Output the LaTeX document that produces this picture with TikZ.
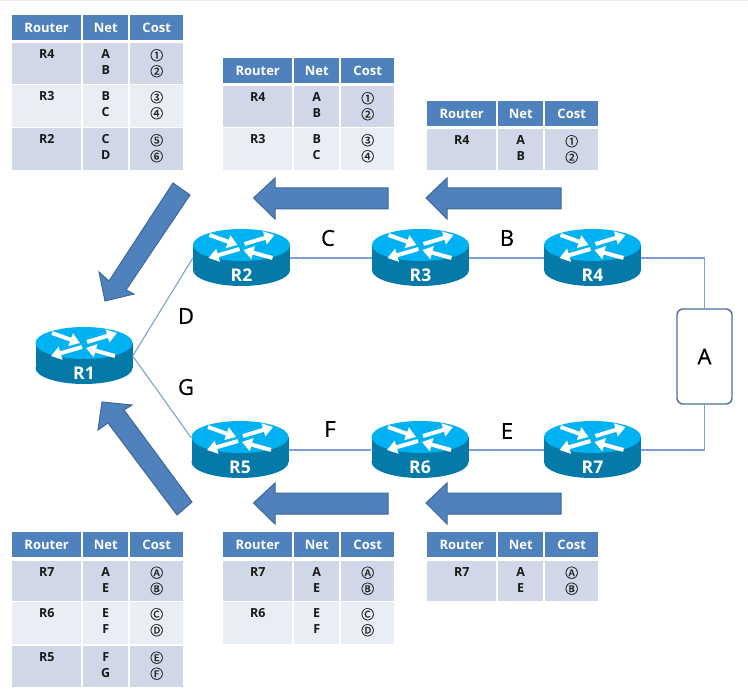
\documentclass[tikz,border=0pt]{standalone}
\usepackage{fontspec}
\setmainfont{Open Sans}
\newfontfamily\circfont[FakeBold=0.3]{Noto Sans CJK KR}
\newfontfamily\medfont[FakeBold=0.5]{Open Sans}
\usetikzlibrary{arrows.meta,calc}
\definecolor{hdblue}{HTML}{4F81BD}
\definecolor{rowdark}{HTML}{D0D8E8}
\definecolor{rowlight}{HTML}{E9EDF4}
\definecolor{arrowedge}{HTML}{3F6797}
\definecolor{linkblue}{HTML}{7DA2D2}
\definecolor{boxedge}{HTML}{4C70A0}
\definecolor{rtop}{HTML}{00B2F2}
\definecolor{rside}{HTML}{0579A8}
\tikzset{
  hd/.style={fill=hdblue,text=white,font=\bfseries\fontsize{13}{14}\selectfont,inner sep=0pt,minimum height=24.5pt,anchor=north west},
  cellbg/.style={inner sep=0pt,anchor=north west},
  celltext/.style={anchor=north,inner sep=0pt,align=center,font=\bfseries\fontsize{12.5}{16}\selectfont,text=black!90},
  costtext/.style={anchor=north,inner sep=0pt,align=center,font=\circfont\fontsize{13}{16}\selectfont,text=black!85},
  bigarrow/.style={fill=hdblue,draw=arrowedge,line width=1pt,line join=miter},
  link/.style={draw=linkblue,line width=1.1pt},
  netlabel/.style={font=\medfont\fontsize{22}{24}\selectfont,text=black,inner sep=0pt},
  rbox/.style={inner sep=0pt,minimum width=97pt,minimum height=56pt,text=white,font=\bfseries\fontsize{17.5}{18}\selectfont},
  rarrow/.style={draw=white,line width=4pt,-{Triangle[length=10pt,width=13pt]}},
}
\newcommand\tblhead[3]{%
  \node[hd,minimum width=69pt] (#1h1) at (#2,#3) {Router};
  \node[hd,minimum width=45pt] (#1h2) at (#2+71,#3) {Net};
  \node[hd,minimum width=53pt] (#1h3) at (#2+118,#3) {Cost};
}
\newcommand\tblrow[8]{%
  \node[cellbg,fill=#5,minimum width=69pt,minimum height=#4pt] (#1a) at (#2,#3) {};
  \node[cellbg,fill=#5,minimum width=45pt,minimum height=#4pt] (#1b) at (#2+71,#3) {};
  \node[cellbg,fill=#5,minimum width=53pt,minimum height=#4pt] (#1c) at (#2+118,#3) {};
  \node[celltext,yshift=-6.5pt] (#1ta) at (#1a.north) {#6};
  \node[celltext,yshift=-6.5pt] (#1tb) at (#1b.north) {#7};
  \node[costtext,yshift=-6pt] (#1tc) at (#1c.north) {#8};
}
\newcommand\router[4]{%
  \begin{scope}[shift={(#2,#3)}]
    \fill[rside] (0,25) ellipse[x radius=48.5,y radius=16];
    \fill[rside] (-48.5,0) rectangle (48.5,25);
    \fill[rtop] (0,0) ellipse[x radius=48.5,y radius=16];
    \draw[rarrow] (-32,-10) -- (-4,0);
    \draw[rarrow] (3,-1) -- (33,-10);
    \draw[rarrow] (-2,4) -- (-33,13);
    \draw[rarrow] (31,13) -- (2,5);
  \end{scope}
  \node[rbox] (#1) at (#2,#3+13) {};
  \node[rbox,minimum width=0pt,minimum height=0pt] (#1t) at (#2,#3+30.5) {#4};
}
\begin{document}
\begin{tikzpicture}[x=1pt,y=-1pt]
\useasboundingbox (0,0) rectangle (748,698);
\fill[white] (0,0) rectangle (748,698);
\fill[black!8] (0,0) rectangle (748,1.2);

\router{R1}{84}{343}{R1}
\router{R2}{241.5}{245}{R2}
\router{R3}{420.5}{245}{R3}
\router{R4}{592.5}{245}{R4}
\router{R5}{240}{437}{R5}
\router{R6}{420}{437}{R6}
\router{R7}{592.5}{437}{R7}

\node[draw=boxedge,line width=1.4pt,rounded corners=6pt,minimum width=55pt,minimum height=95pt,inner sep=0pt,font=\medfont\fontsize{22}{24}\selectfont] (A) at (704.5,356.5) {A};

\draw[link] (R1.east) -- (R2.west);
\draw[link] (R1.east) -- (R5.166);
\draw[link] (R2.east) -- (R3.west);
\draw[link] (R3.east) -- (R4.west);
\draw[link] (R4.east) -| (A.north);
\draw[link] (R5.east) -- (R6.west);
\draw[link] (R6.east) -- (R7.west);
\draw[link] (R7.east) -| (A.south);

\node[netlabel] (lC) at (328,238) {C};
\node[netlabel] (lB) at (507,238) {B};
\node[netlabel] (lD) at (186,316) {D};
\node[netlabel] (lG) at (186,387) {G};
\node[netlabel] (lF) at (330,429) {F};
\node[netlabel] (lE) at (507,431) {E};

\draw[bigarrow] (253.5,198) -- (275,178) -- (275,188) -- (388,188) -- (388,209) -- (275,209) -- (275,219) -- cycle;
\draw[bigarrow] (426,198) -- (447,178) -- (447,188) -- (561,188) -- (561,209) -- (447,209) -- (447,219) -- cycle;
\draw[bigarrow] (253.5,503) -- (275,483) -- (275,493) -- (388,493) -- (388,514) -- (275,514) -- (275,524) -- cycle;
\draw[bigarrow] (426,503) -- (447,483) -- (447,493) -- (561,493) -- (561,514) -- (447,514) -- (447,524) -- cycle;
\draw[bigarrow] (105,301) -- (99,272) -- (109,281) -- (173,183) -- (190,195) -- (126,290) -- (134,294) -- cycle;
\draw[bigarrow] (102,402) -- (132,405) -- (124,410) -- (192,502) -- (177,515) -- (108,423) -- (98,430) -- cycle;

\tblhead{ta}{12}{15}
\tblrow{ta1}{12}{43}{40.5}{rowdark}{R4}{A\\B}{①\\②}
\tblrow{ta2}{12}{85}{41.5}{rowlight}{R3}{B\\C}{③\\④}
\tblrow{ta3}{12}{128}{42}{rowdark}{R2}{C\\D}{⑤\\⑥}

\tblhead{tb}{223}{58}
\tblrow{tb1}{223}{86}{41}{rowdark}{R4}{A\\B}{①\\②}
\tblrow{tb2}{223}{128}{42}{rowlight}{R3}{B\\C}{③\\④}

\tblhead{tc}{427}{101}
\tblrow{tc1}{427}{129}{41}{rowdark}{R4}{A\\B}{①\\②}

\tblhead{td}{12}{532}
\tblrow{td1}{12}{560.5}{40.5}{rowdark}{R7}{A\\E}{Ⓐ\\Ⓑ}
\tblrow{td2}{12}{602}{42}{rowlight}{R6}{E\\F}{Ⓒ\\Ⓓ}
\tblrow{td3}{12}{645.5}{41.5}{rowdark}{R5}{F\\G}{Ⓔ\\Ⓕ}

\tblhead{te}{223}{532}
\tblrow{te1}{223}{560.5}{40.5}{rowdark}{R7}{A\\E}{Ⓐ\\Ⓑ}
\tblrow{te2}{223}{602}{42}{rowlight}{R6}{E\\F}{Ⓒ\\Ⓓ}

\tblhead{tf}{427}{532}
\tblrow{tf1}{427}{560.5}{40.5}{rowdark}{R7}{A\\E}{Ⓐ\\Ⓑ}
\end{tikzpicture}
\end{document}
